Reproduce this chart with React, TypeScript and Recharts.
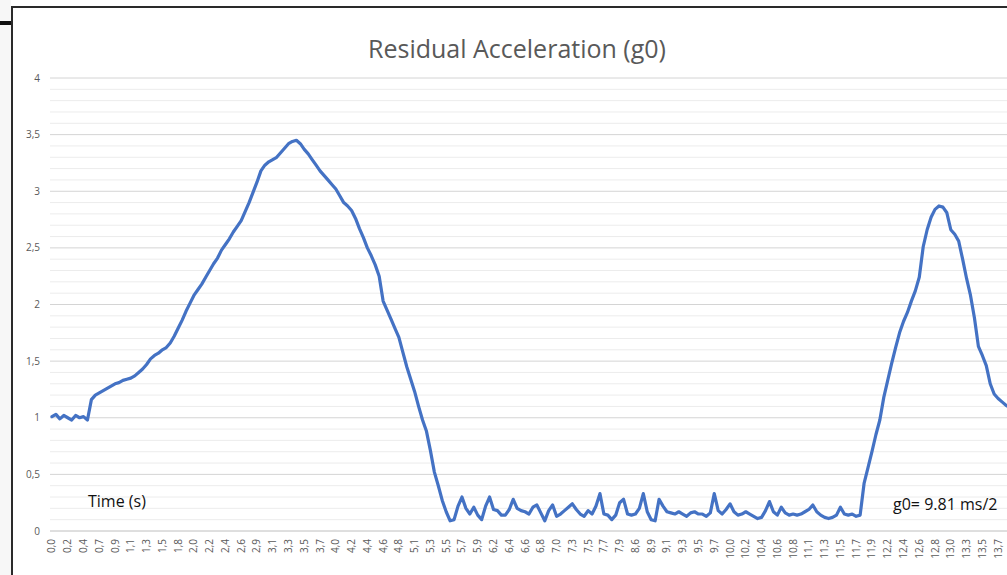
import React from 'react';
import { LineChart, Line, XAxis, YAxis, CartesianGrid, ReferenceLine } from 'recharts';

const timeLabels = [
  '0,0', '0,2', '0,4', '0,7', '0,9', '1,1', '1,3', '1,5', '1,8', '2,0',
  '2,2', '2,4', '2,6', '2,9', '3,1', '3,3', '3,5', '3,7', '4,0', '4,2',
  '4,4', '4,6', '4,8', '5,1', '5,3', '5,5', '5,7', '5,9', '6,2', '6,4',
  '6,6', '6,8', '7,0', '7,3', '7,5', '7,7', '7,9', '8,6', '8,9', '9,1',
  '9,3', '9,5', '9,7', '10,0', '10,2', '10,4', '10,6', '10,8', '11,1', '11,3',
  '11,5', '11,7', '11,9', '12,2', '12,4', '12,6', '12,8', '13,0', '13,3', '13,5',
  '13,7',
];

// residual acceleration samples (g0), 4 samples per labelled time step
const accel = [
  1.01, 1.03, 0.99, 1.02, 1.00, 0.98, 1.02, 1.00, 1.01, 0.98,
  1.16, 1.20, 1.22, 1.24, 1.26, 1.28, 1.30, 1.31, 1.33, 1.34,
  1.35, 1.37, 1.40, 1.43, 1.47, 1.52, 1.55, 1.57, 1.60, 1.62,
  1.66, 1.72, 1.79, 1.86, 1.94, 2.01, 2.08, 2.13, 2.18, 2.24,
  2.30, 2.36, 2.41, 2.48, 2.53, 2.58, 2.64, 2.69, 2.74, 2.82,
  2.90, 2.99, 3.08, 3.18, 3.23, 3.26, 3.28, 3.30, 3.34, 3.38,
  3.42, 3.44, 3.45, 3.42, 3.37, 3.33, 3.28, 3.23, 3.18, 3.14,
  3.10, 3.06, 3.02, 2.96, 2.90, 2.87, 2.83, 2.76, 2.67, 2.59,
  2.50, 2.43, 2.35, 2.25, 2.03, 1.95, 1.87, 1.79, 1.71, 1.58,
  1.45, 1.34, 1.23, 1.10, 0.98, 0.88, 0.71, 0.52, 0.40, 0.27,
  0.17, 0.09, 0.10, 0.22, 0.30, 0.20, 0.15, 0.21, 0.14, 0.10,
  0.22, 0.30, 0.19, 0.18, 0.14, 0.14, 0.19, 0.28, 0.20, 0.18,
  0.17, 0.15, 0.21, 0.23, 0.16, 0.09, 0.18, 0.23, 0.13, 0.15,
  0.18, 0.21, 0.24, 0.19, 0.15, 0.13, 0.18, 0.15, 0.22, 0.33,
  0.15, 0.14, 0.10, 0.14, 0.25, 0.28, 0.15, 0.14, 0.15, 0.20,
  0.33, 0.17, 0.10, 0.09, 0.28, 0.22, 0.17, 0.16, 0.15, 0.17,
  0.15, 0.13, 0.16, 0.17, 0.15, 0.15, 0.13, 0.16, 0.33, 0.18,
  0.15, 0.19, 0.24, 0.17, 0.14, 0.15, 0.17, 0.15, 0.13, 0.11,
  0.12, 0.18, 0.26, 0.17, 0.14, 0.21, 0.16, 0.14, 0.15, 0.14,
  0.15, 0.17, 0.19, 0.23, 0.17, 0.14, 0.12, 0.11, 0.12, 0.14,
  0.21, 0.15, 0.14, 0.15, 0.13, 0.14, 0.42, 0.56, 0.70, 0.85,
  0.98, 1.18, 1.33, 1.48, 1.62, 1.75, 1.85, 1.93, 2.03, 2.12,
  2.24, 2.51, 2.66, 2.77, 2.84, 2.87, 2.86, 2.81, 2.66, 2.62,
  2.56, 2.40, 2.23, 2.08, 1.88, 1.63, 1.55, 1.46, 1.30, 1.21,
  1.17, 1.14, 1.11, 1.09,
];

const yMajorTicks = [0, 0.5, 1, 1.5, 2, 2.5, 3, 3.5, 4];
const yMinorTicks = [
  0.1, 0.2, 0.3, 0.4, 0.6, 0.7, 0.8, 0.9,
  1.1, 1.2, 1.3, 1.4, 1.6, 1.7, 1.8, 1.9,
  2.1, 2.2, 2.3, 2.4, 2.6, 2.7, 2.8, 2.9,
  3.1, 3.2, 3.3, 3.4, 3.6, 3.7, 3.8, 3.9,
];

const SAMPLES_PER_LABEL = 4;
const data = accel.map((v, i) => ({ i, v }));
const xTicks = timeLabels.map((_, k) => k * SAMPLES_PER_LABEL);

const FONT = '"Open Sans", "Noto Sans", sans-serif';

const XTick = (props: any) => {
  const { x, y, payload } = props;
  const label = timeLabels[Math.round(payload.value / SAMPLES_PER_LABEL)];
  return (
    <g transform={`translate(${x},${y})`}>
      <text
        transform="rotate(-90)"
        x={0}
        y={0}
        dy="0.35em"
        textAnchor="end"
        fill="#595959"
        fontSize={10}
        fontFamily={FONT}
      >
        {label}
      </text>
    </g>
  );
};

export default function App() {
  return (
    <div
      style={{
        position: 'absolute',
        left: 0,
        top: 0,
        width: 1007,
        height: 575,
        overflow: 'hidden',
        background: '#ffffff',
      }}
    >
      <div
        style={{
          position: 'absolute',
          left: 0,
          top: 0,
          width: 11,
          height: 575,
          background: '#f7f7f7',
        }}
      />
      <div
        style={{
          position: 'absolute',
          left: 0,
          top: 21,
          width: 12,
          height: 4,
          background: '#111',
        }}
      />
      <div
        style={{
          position: 'absolute',
          left: 11,
          top: 6,
          width: 1100,
          height: 700,
          border: '2px solid #2a2a2a',
          background: '#ffffff',
        }}
      />
      <div style={{ position: 'absolute', left: 0, top: 0 }}>
        <LineChart
          width={1050}
          height={575}
          data={data}
          margin={{ top: 78, right: 10.5, bottom: 0, left: 0 }}
        >
          <CartesianGrid vertical={false} stroke="#d4d4d4" strokeWidth={1} />
          {yMinorTicks.map((t) => (
            <ReferenceLine
              key={t}
              y={t}
              stroke="#ececec"
              strokeWidth={1}
              ifOverflow="visible"
            />
          ))}
          <XAxis
            dataKey="i"
            type="number"
            domain={[-0.5, 250.5]}
            ticks={xTicks}
            interval={0}
            height={44}
            tick={<XTick />}
            tickLine={false}
            tickSize={6}
            tickMargin={2}
            axisLine={{ stroke: '#d4d4d4' }}
            allowDataOverflow
          />
          <YAxis
            type="number"
            domain={[0, 4]}
            ticks={yMajorTicks}
            width={50}
            axisLine={false}
            tickLine={false}
            tickSize={8}
            tickMargin={2}
            tick={{ fill: '#595959', fontSize: 10, fontFamily: FONT }}
            tickFormatter={(v: number) => String(v).replace('.', ',')}
          />
          <Line
            type="linear"
            dataKey="v"
            stroke="#4472c4"
            strokeWidth={3.2}
            strokeLinejoin="round"
            strokeLinecap="round"
            dot={false}
            activeDot={false}
            isAnimationActive={false}
          />
        </LineChart>
      </div>
      <svg
        width={1007}
        height={575}
        style={{ position: 'absolute', left: 0, top: 0, pointerEvents: 'none' }}
      >
        <text
          x={517}
          y={58}
          textAnchor="middle"
          fontSize={25}
          fill="#595959"
          fontFamily={FONT}
        >
          Residual Acceleration (g0)
        </text>
        <text x={88} y={507} fontSize={16} fill="#111" fontFamily={FONT}>
          Time (s)
        </text>
        <text x={893} y={510} fontSize={16} fill="#111" fontFamily={FONT}>
          g0= 9.81 ms/2
        </text>
      </svg>
    </div>
  );
}
